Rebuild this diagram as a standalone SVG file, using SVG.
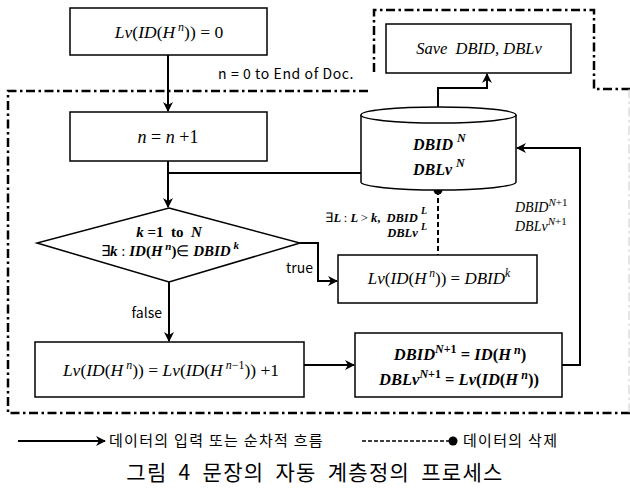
<svg xmlns="http://www.w3.org/2000/svg" width="630" height="490" viewBox="0 0 630 490">
<style>
.box{fill:#fff;stroke:#000;stroke-width:1.5}
.con{fill:none;stroke:#000;stroke-width:2}
.frame{fill:none;stroke:#000;stroke-width:2.5;stroke-dasharray:9 3.5 2.5 3.5}
.m{font-family:"Liberation Serif",serif;font-style:italic;fill:#000;white-space:pre}
.b{font-weight:bold}
.up{font-style:normal}
.nw{font-weight:normal;font-style:normal}
.s{font-family:"Noto Sans CJK KR","Noto Sans",sans-serif;fill:#000}
</style>
<defs>
<marker id="arr" viewBox="0 0 10 10" refX="9" refY="5" markerWidth="5" markerHeight="5" orient="auto" markerUnits="strokeWidth">
<path d="M0,0 L10,5 L0,10 L3,5 z" fill="#000"/>
</marker>
</defs>
<rect width="630" height="490" fill="#fff"/>

<g id="frames">
<path class="frame" d="M368,91 H8 V413 H630"/>
<path class="frame" d="M374,72 V10 H594 V89 H630"/>
<path d="M629,89 V413" fill="none" stroke="#ccc" stroke-width="1" stroke-dasharray="9 3.5 2.5 3.5"/>
</g>

<g id="connectors">
<path class="con" d="M168,55 V111" marker-end="url(#arr)"/>
<path class="con" d="M168,161 V207" marker-end="url(#arr)"/>
<path class="con" d="M168,173 H361"/>
<path class="con" d="M300,243 H318 V281 H337" marker-end="url(#arr)"/>
<path class="con" d="M169,282 V341" marker-end="url(#arr)"/>
<path class="con" d="M304,365 H354" marker-end="url(#arr)"/>
<path class="con" d="M562,365 H580 V148 H517" marker-end="url(#arr)"/>
<path class="con" d="M438,107 V88 H487 V74" marker-end="url(#arr)"/>
<path d="M438,190 V255" fill="none" stroke="#000" stroke-width="2" stroke-dasharray="5 3"/>
<circle cx="438" cy="190" r="4.5" fill="#000"/>
</g>

<g id="n1">
<rect class="box" x="70" y="8" width="197" height="47"/>
<text class="m" x="169" y="38" font-size="17.5" text-anchor="middle">Lv<tspan class="up">(</tspan>ID<tspan class="up">(</tspan>H<tspan font-size="12" dy="-7">&#160;n</tspan><tspan class="up" dy="7">)) = 0</tspan></text>
</g>
<text class="s" x="218" y="79" font-size="14" letter-spacing="0.6">n = 0 to End of Doc.</text>

<g id="n2">
<rect class="box" x="70" y="112" width="197" height="49"/>
<text class="m" x="168" y="143" font-size="18" text-anchor="middle">n <tspan class="up">=</tspan> n <tspan class="up">+1</tspan></text>
</g>

<g id="decision">
<polygon class="box" points="169,208 300,243 169,282 37,243"/>
<text class="m b" x="169" y="237" font-size="15" text-anchor="middle">k <tspan class="up">=1&#160; to</tspan>&#160;&#160;N</text>
<text class="m b" x="170" y="256" font-size="15" text-anchor="middle"><tspan class="nw">∃</tspan>k <tspan class="nw">:</tspan> ID<tspan class="up">(</tspan>H<tspan font-size="11" dy="-6">&#160;n</tspan><tspan class="up" dy="6">)</tspan><tspan class="nw">∈</tspan> DBID<tspan font-size="11" dy="-7">&#160;k</tspan></text>
</g>
<text class="s" x="313" y="273" font-size="14" text-anchor="end">true</text>
<text class="s" x="162" y="318" font-size="14" text-anchor="end">false</text>

<g id="db">
<path class="box" d="M361,115 A77.5,8 0 0 1 516,115 V182 A77.5,8 0 0 1 361,182 Z"/>
<path class="box" fill="none" d="M361,115 A77.5,8 0 0 0 516,115"/>
<text class="m b" x="413" y="150" font-size="16">DBID <tspan font-size="12" dy="-8">N</tspan></text>
<text class="m b" x="413" y="175" font-size="16">DBLv <tspan font-size="12" dy="-8">N</tspan></text>
</g>

<g id="save">
<rect class="box" x="386" y="24" width="185" height="49"/>
<text class="m" x="479" y="54" font-size="16.5" text-anchor="middle">Save&#160; DBID, DBLv</text>
</g>

<text class="m b" x="427" y="222" font-size="12.5" text-anchor="end"><tspan class="nw">∃</tspan>L <tspan class="nw">:</tspan> L <tspan class="nw">&gt;</tspan> k<tspan class="up">,</tspan>&#160; DBID <tspan font-size="10" dy="-8">L</tspan></text>
<text class="m b" x="427" y="237" font-size="12.5" text-anchor="end">DBLv <tspan font-size="10" dy="-7">L</tspan></text>

<text class="m" x="515" y="212" font-size="14">DBID<tspan font-size="11" dy="-6">N<tspan class="up">+1</tspan></tspan></text>
<text class="m" x="515" y="231" font-size="14">DBLv<tspan font-size="11" dy="-6">N<tspan class="up">+1</tspan></tspan></text>

<g id="assign">
<rect class="box" x="338" y="255" width="199" height="48"/>
<text class="m" x="439" y="284" font-size="17" text-anchor="middle">Lv<tspan class="up">(</tspan>ID<tspan class="up">(</tspan>H<tspan font-size="11.5" dy="-7">&#160;n</tspan><tspan class="up" dy="7">)) = </tspan>DBID<tspan font-size="11.5" dy="-7">k</tspan></text>
</g>

<g id="inc">
<rect class="box" x="35" y="342" width="269" height="55"/>
<text class="m" x="171" y="376" font-size="17.5" text-anchor="middle">Lv<tspan class="up">(</tspan>ID<tspan class="up">(</tspan>H<tspan font-size="12" dy="-7">&#160;n</tspan><tspan class="up" dy="7">)) = </tspan>Lv<tspan class="up">(</tspan>ID<tspan class="up">(</tspan>H<tspan font-size="12" dy="-7">&#160;n<tspan class="up">−1</tspan></tspan><tspan class="up" dy="7">)) +1</tspan></text>
</g>

<g id="update">
<rect class="box" x="355" y="333" width="207" height="64"/>
<text class="m b" x="460" y="360" font-size="16.5" text-anchor="middle">DBID<tspan font-size="12" dy="-7">N<tspan class="up">+1</tspan></tspan><tspan class="up" dy="7"> = </tspan>ID<tspan class="up">(</tspan>H<tspan font-size="12" dy="-6">&#160;n</tspan><tspan class="up" dy="6">)</tspan></text>
<text class="m b" x="459" y="385" font-size="16.5" text-anchor="middle">DBLv<tspan font-size="12" dy="-7">N<tspan class="up">+1</tspan></tspan><tspan class="up" dy="7"> = </tspan>Lv<tspan class="up">(</tspan>ID<tspan class="up">(</tspan>H<tspan font-size="12" dy="-6">&#160;n</tspan><tspan class="up" dy="6">))</tspan></text>
</g>

<g id="legend">
<path class="con" d="M18,441 H105" stroke-width="1.6" marker-end="url(#arr)"/>
<text class="s" x="109" y="446" font-size="15" letter-spacing="1.3">데이터의 입력 또는 순차적 흐름</text>
<path d="M362,441 H450" fill="none" stroke="#000" stroke-width="1.6" stroke-dasharray="4 2"/>
<circle cx="453" cy="441" r="4.5" fill="#000"/>
<text class="s" x="463" y="446" font-size="15" letter-spacing="1.3">데이터의 삭제</text>
<text class="s" x="315" y="480" font-size="21" text-anchor="middle" letter-spacing="1.3" word-spacing="5">그림 4 문장의 자동 계층정의 프로세스</text>
</g>
</svg>
